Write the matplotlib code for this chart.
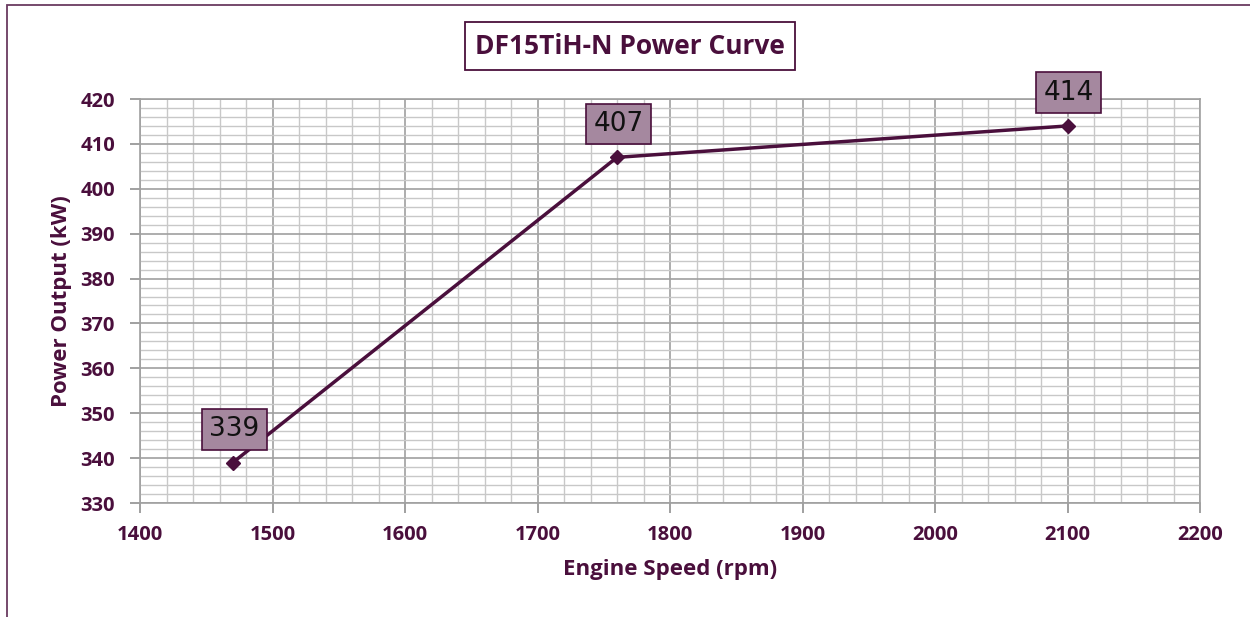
import matplotlib
matplotlib.use("Agg")
import matplotlib.pyplot as plt
from matplotlib.ticker import MultipleLocator
from matplotlib.patches import Rectangle

speed_rpm = [1470, 1760, 2100]
power_kw = [339, 407, 414]
x_ticks = [1400, 1500, 1600, 1700, 1800, 1900, 2000, 2100, 2200]
y_ticks = [330, 340, 350, 360, 370, 380, 390, 400, 410, 420]

dark = "#4a0f3c"
label_fill = "#a5889f"
plt.rcParams['font.family'] = ['Open Sans', 'DejaVu Sans']
plt.rcParams['font.weight'] = 'bold'

fig = plt.figure(figsize=(12.5, 6.17), dpi=100)
ax = fig.add_axes([140/1250, 1 - 503/617, 1060/1250, 404/617])

ax.set_xlim(1400, 2200)
ax.set_ylim(330, 420)
ax.set_xticks(x_ticks)
ax.set_yticks(y_ticks)
ax.xaxis.set_minor_locator(MultipleLocator(20))
ax.yaxis.set_minor_locator(MultipleLocator(2))
ax.grid(which='major', color='#a0a0a0', linewidth=1.2)
ax.grid(which='minor', color='#c8c8c8', linewidth=1.0)
ax.set_axisbelow(True)
for s in ax.spines.values():
    s.set_color('#a0a0a0')
    s.set_linewidth(1.2)
ax.tick_params(which='major', length=7, color='#909090', width=1.2,
               labelsize=14.5, labelcolor=dark)
ax.tick_params(which='minor', length=0)
ax.tick_params(axis='x', pad=9)
ax.tick_params(axis='y', pad=11)
for lab in ax.get_xticklabels() + ax.get_yticklabels():
    lab.set_fontweight('bold')

ax.plot(speed_rpm, power_kw, color=dark, linewidth=2.5, marker='D',
        markersize=7, markerfacecolor=dark, markeredgecolor=dark, zorder=3)

for x, y in zip(speed_rpm, power_kw):
    ax.annotate(f"{y}", xy=(x, y), xytext=(1, 24), textcoords='offset points',
                ha='center', va='center', fontsize=19, color='#111111',
                family=['DejaVu Sans'], fontweight='normal',
                bbox=dict(boxstyle='square,pad=0.28', facecolor=label_fill,
                          edgecolor=dark, linewidth=1.2), zorder=5)

ax.set_xlabel("Engine Speed (rpm)", fontsize=16, fontweight='bold', color=dark, labelpad=10)
ax.set_ylabel("Power Output (kW)", fontsize=16, fontweight='bold', color=dark, labelpad=6)

fig.text(630/1250, 1 - 46/617, "DF15TiH-N Power Curve", ha='center', va='center',
         fontsize=19, fontweight='bold', color=dark,
         bbox=dict(boxstyle='square,pad=0.4', facecolor='white', edgecolor=dark, linewidth=1.3))

# outer chart border
fig.patches.append(Rectangle((7/1250, -0.05), 1.2, 1 - 5/617 + 0.05, transform=fig.transFigure,
                             fill=False, edgecolor='#6a3a60', linewidth=1.3))

fig.savefig("out.png", dpi=100)
